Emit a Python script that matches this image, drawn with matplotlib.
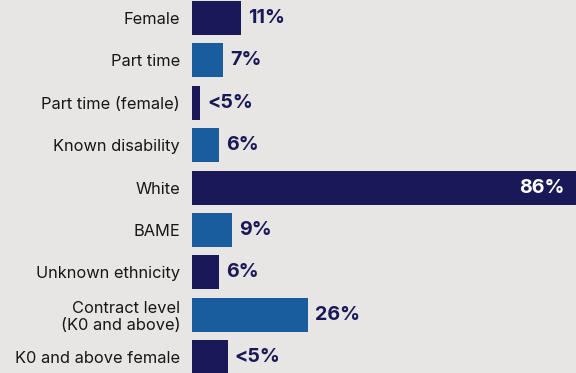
import matplotlib.pyplot as plt
from matplotlib.transforms import offset_copy

categories = ["Female", "Part time", "Part time (female)", "Known disability",
              "White", "BAME", "Unknown ethnicity",
              "Contract level\n(K0 and above)", "K0 and above female"]
values = [11, 7, 1.8, 6, 86, 9, 6, 26, 8]
value_labels = ["11%", "7%", "<5%", "6%", "86%", "9%", "6%", "26%", "<5%"]

navy = "#1a1958"
blue = "#1a5d9e"
bg = "#e7e6e5"
colors = [navy if i % 2 == 0 else blue for i in range(len(values))]

plt.rcParams["font.family"] = ["Inter", "DejaVu Sans"]

fig = plt.figure(figsize=(5.76, 3.73), dpi=100, facecolor=bg)
ax = fig.add_axes([192 / 576, 0, 384 / 576, 1])
ax.set_facecolor(bg)

y = list(range(len(values)))
ax.barh(y, values, height=0.8, color=colors)
ax.set_xlim(0, max(values))
ax.set_ylim(8.372, -0.425)

for side in ax.spines.values():
    side.set_visible(False)
ax.set_xticks([])
ax.set_yticks(y)
ax.set_yticklabels(categories, fontsize=11.8, color="#161616", linespacing=1.15)
ax.tick_params(axis="y", length=0, pad=8.5)

for yi, v, lab in zip(y, values, value_labels):
    if v >= 50:
        tr = offset_copy(ax.transData, fig=fig, x=-8, y=0, units="points")
        ax.text(v, yi, lab, transform=tr, ha="right", va="center",
                fontsize=14.2, fontweight="bold", color="white")
    else:
        tr = offset_copy(ax.transData, fig=fig, x=5, y=0, units="points")
        ax.text(v, yi, lab, transform=tr, ha="left", va="center",
                fontsize=14.2, fontweight="bold", color=navy)

fig.savefig("out.png", dpi=100, facecolor=bg)
